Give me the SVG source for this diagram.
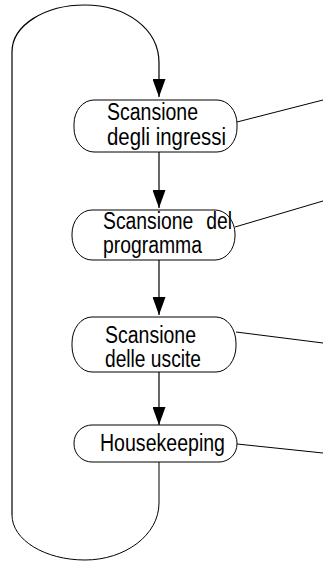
<svg xmlns="http://www.w3.org/2000/svg" width="323" height="561" viewBox="0 0 323 561">
<style>
.node{fill:#fff;stroke:#000;stroke-width:1}
.lbl{font-family:"Liberation Sans",Arial,sans-serif;font-size:23px;fill:#000}
.ln{fill:none;stroke:#000;stroke-width:1}
.arr{fill:none;stroke:#000;stroke-width:1.2;marker-end:url(#ah)}
</style>
<defs>
<marker id="ah" markerUnits="userSpaceOnUse" markerWidth="18" markerHeight="13" viewBox="0 0 18 13" refX="18" refY="6.5" orient="auto">
<path d="M0,0 L18,6.5 L0,13 Z" fill="#000"/>
</marker>
</defs>
<rect width="323" height="561" fill="#fff"/>
<g id="connectors">
<path class="arr" d="M12,515 L12,52 C12,25 45,5 85,5 C125,5 159,28 159,63 L159,97"/>
<path class="ln" d="M159,462 L159,503 C159,535 125,560 85,560 C45,560 12,540 12,515"/>
<line class="arr" x1="159" y1="152" x2="159" y2="208"/>
<line class="arr" x1="159" y1="260" x2="159" y2="315"/>
<line class="arr" x1="159" y1="372" x2="159" y2="425"/>
<line class="ln" x1="237" y1="122" x2="323" y2="100"/>
<line class="ln" x1="235" y1="227" x2="323" y2="201"/>
<line class="ln" x1="236" y1="332" x2="323" y2="343"/>
<line class="ln" x1="237" y1="444" x2="323" y2="453"/>
</g>
<g id="n1">
<rect class="node" x="74" y="100" width="163" height="52" rx="20" ry="24"/>
<text class="lbl" x="107" y="120" textLength="91" lengthAdjust="spacingAndGlyphs">Scansione</text>
<text class="lbl" x="107" y="145" textLength="119" lengthAdjust="spacingAndGlyphs">degli ingressi</text>
</g>
<g id="n2">
<rect class="node" x="72" y="210" width="163" height="50" rx="20" ry="24"/>
<text class="lbl" x="103" y="229" style="word-spacing:9px" textLength="129" lengthAdjust="spacingAndGlyphs">Scansione del</text>
<text class="lbl" x="103" y="253" textLength="99" lengthAdjust="spacingAndGlyphs">programma</text>
</g>
<g id="n3">
<rect class="node" x="72" y="317" width="164" height="55" rx="20" ry="26"/>
<text class="lbl" x="105" y="343" textLength="91" lengthAdjust="spacingAndGlyphs">Scansione</text>
<text class="lbl" x="105" y="367" textLength="96" lengthAdjust="spacingAndGlyphs">delle uscite</text>
</g>
<g id="n4">
<rect class="node" x="74" y="425" width="163" height="37" rx="18" ry="18"/>
<text class="lbl" x="100" y="451" textLength="125" lengthAdjust="spacingAndGlyphs">Housekeeping</text>
</g>
</svg>
